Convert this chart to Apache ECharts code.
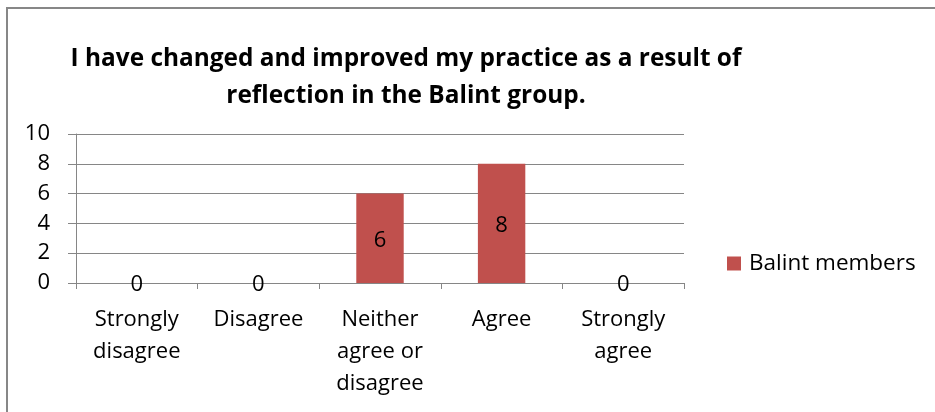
<!DOCTYPE html>
<html>
<head>
<meta charset="utf-8">
<script src="https://cdn.jsdelivr.net/npm/echarts@6/dist/echarts.min.js"></script>
<style>
  html, body { margin: 0; padding: 0; background: #fff; }
  #wrap { position: relative; width: 935px; height: 412px; overflow: hidden; }
  #frame { position: absolute; left: 6px; top: 7px; width: 1000px; height: 500px; border: 2px solid #878787; }
  #chart { position: absolute; left: 0; top: 0; width: 935px; height: 412px; }
</style>
</head>
<body>
<div id="wrap">
  <div id="frame"></div>
  <div id="chart"></div>
</div>
<script>
// 回答选项（x 轴）
const categories = ['Strongly\ndisagree', 'Disagree', 'Neither\nagree or\ndisagree', 'Agree', 'Strongly\nagree']
const balintMembers = [0, 0, 6, 8, 0]
const yTicks = [0, 2, 4, 6, 8, 10]

const font = '"Open Sans", Lato, sans-serif'
const chart = echarts.init(document.getElementById('chart'))
chart.setOption({
  textStyle: { fontFamily: font },
  title: {
    text: 'I have changed and improved my practice as a result of\nreflection in the Balint group.',
    left: 401,
    top: 36,
    textAlign: 'center',
    textStyle: {
      fontFamily: font,
      fontSize: 24.4,
      fontWeight: 'bold',
      color: '#000',
      lineHeight: 37
    }
  },
  legend: {
    orient: 'vertical',
    left: 722,
    top: 247,
    itemWidth: 14,
    itemHeight: 14,
    icon: 'rect',
    textStyle: { fontFamily: font, fontSize: 22.5, color: '#000', padding: [0, 0, 0, 3] }
  },
  grid: {
    left: 76,
    right: 251,
    top: 134,
    bottom: 129
  },
  xAxis: {
    type: 'category',
    data: categories,
    axisLine: { lineStyle: { color: '#868686', width: 1 } },
    axisTick: { show: true, length: 6, lineStyle: { color: '#868686' } },
    axisLabel: {
      color: '#000',
      fontSize: 22,
      lineHeight: 32,
      margin: 21,
      interval: 0
    }
  },
  yAxis: {
    type: 'value',
    min: yTicks[0],
    max: yTicks[yTicks.length - 1],
    interval: 2,
    axisLine: { show: true, lineStyle: { color: '#868686', width: 1 } },
    axisTick: { show: true, length: 8, lineStyle: { color: '#868686' } },
    splitLine: { lineStyle: { color: '#868686', width: 1 } },
    axisLabel: { color: '#000', fontSize: 22, margin: 26 }
  },
  series: [{
    name: 'Balint members',
    type: 'bar',
    data: balintMembers,
    barWidth: '39%',
    itemStyle: { color: '#C0504D' },
    label: {
      show: true,
      position: 'inside',
      offset: [0, 2],
      color: '#000',
      fontSize: 22,
      fontFamily: font
    }
  }]
})
</script>
</body>
</html>
